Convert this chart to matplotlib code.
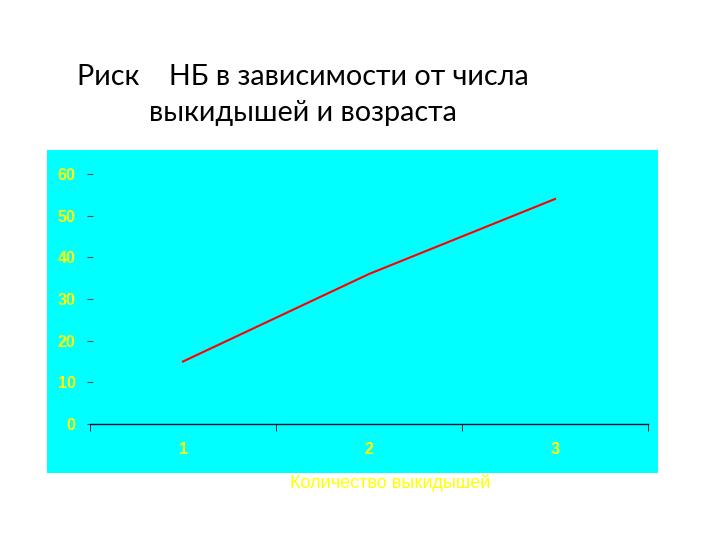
import matplotlib.pyplot as plt
from matplotlib.patches import Rectangle

# data
categories = [1, 2, 3]
risk = [15, 36, 54]
y_ticks = [0, 10, 20, 30, 40, 50, 60]

title = "Риск    НБ в зависимости от числа\nвыкидышей и возраста"
x_label = "Количество выкидышей"

fig = plt.figure(figsize=(7.2, 5.4), dpi=100)
fig.patch.set_facecolor("white")

# cyan panel behind the plot
W, H = 720, 540
fig.patches.append(Rectangle((47 / W, 1 - 473 / H), (658 - 47) / W, (473 - 150) / H,
                             transform=fig.transFigure, facecolor="#00FFFF",
                             edgecolor="none", zorder=-5))

ax = fig.add_axes([90 / W, 1 - 424 / H, (648 - 90) / W, (424 - 174) / H])
ax.set_zorder(2)
ax.set_facecolor("none")
ax.plot(categories, risk, color="red", lw=1.5)

ax.set_xlim(0.5, 3.5)
ax.set_ylim(0, 60)
ax.set_yticks(y_ticks)
ax.set_xticks(categories)
ax.set_xticks([0.5, 1.5, 2.5, 3.5], minor=True)

for s in ["top", "right", "left"]:
    ax.spines[s].set_visible(False)
ax.spines["bottom"].set_color("#101030")
ax.spines["bottom"].set_linewidth(1)

ax.tick_params(axis="x", which="major", length=0, pad=13,
               labelcolor="#FFFF00", labelsize=11.5)
ax.tick_params(axis="x", which="minor", length=5, color="#101030", direction="out")
ax.tick_params(axis="y", length=5, color="#555555", direction="inout", pad=8,
               labelcolor="#FFFF00", labelsize=11.5)
for lab in ax.get_xticklabels() + ax.get_yticklabels():
    lab.set_fontfamily("Liberation Sans")
    lab.set_fontweight("bold")

fig.text(390 / W, 1 - 483 / H, x_label, ha="center", va="center",
         color="#FFFF00", fontsize=13, family="Liberation Sans")

fig.text(303 / W, 1 - 95 / H, title, ha="center", va="center",
         multialignment="center", fontsize=20.7, family="Lato",
         color="black", linespacing=1.5)

fig.savefig("out.png", dpi=100)
